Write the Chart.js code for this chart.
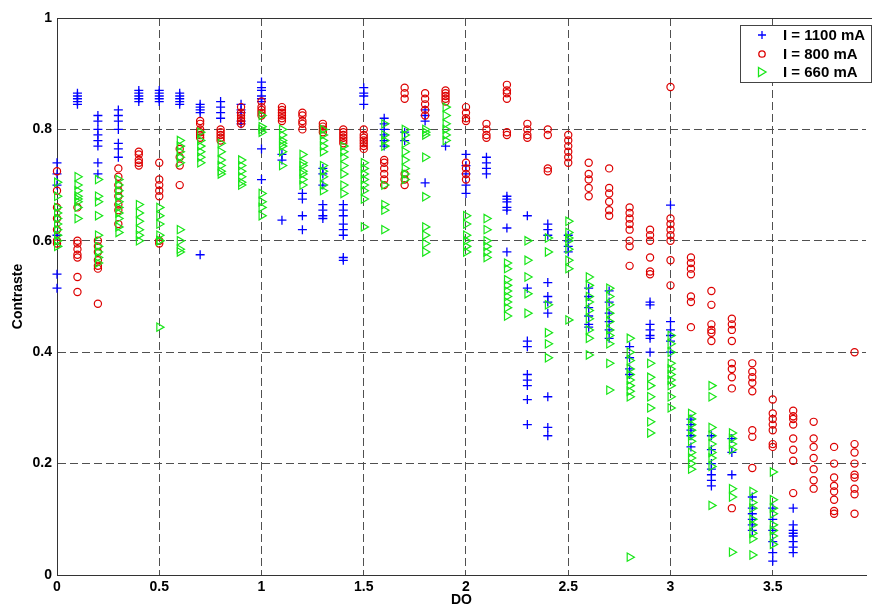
<!DOCTYPE html>
<html><head><meta charset="utf-8">
<script src="https://cdn.jsdelivr.net/npm/chart.js@4/dist/chart.umd.min.js"></script>
<style>html,body{margin:0;padding:0;background:#fff;overflow:hidden}#wrap{width:872px;height:606px}</style>
</head><body><div id="wrap"><canvas id="c" width="872" height="606"></canvas></div>
<script>
// DO values (x columns)
const doValues = [0,0.1,0.2,0.3,0.4,0.5,0.6,0.7,0.8,0.9,1.0,1.1,1.2,1.3,1.4,1.5,1.6,1.7,1.8,1.9,
                  2.0,2.1,2.2,2.3,2.4,2.5,2.6,2.7,2.8,2.9,3.0,3.1,3.2,3.3,3.4,3.5,3.6,3.7,3.8,3.9];

// Contraste, I = 1100 mA (one list per DO column)
const contraste1100 = [
  [0.74,0.72,0.70,0.61,0.54,0.515],
  [0.865,0.86,0.855,0.85,0.845],
  [0.825,0.815,0.80,0.79,0.78,0.77,0.74,0.72],
  [0.835,0.825,0.815,0.80,0.775,0.765,0.75],
  [0.87,0.865,0.86,0.855,0.85],
  [0.87,0.865,0.86,0.855,0.85],
  [0.865,0.86,0.855,0.85,0.845],
  [0.845,0.84,0.835,0.83,0.575],
  [0.85,0.84,0.83,0.82],
  [0.845,0.835,0.83,0.815,0.81],
  [0.885,0.875,0.87,0.86,0.855,0.85,0.765,0.71],
  [0.755,0.745,0.637],
  [0.685,0.675,0.645,0.62],
  [0.73,0.72,0.70,0.665,0.655,0.645,0.64],
  [0.665,0.655,0.645,0.63,0.62,0.61,0.57,0.565],
  [0.875,0.865,0.86,0.845],
  [0.82,0.81,0.80,0.79,0.78,0.77],
  [0.795,0.78],
  [0.835,0.825,0.815,0.704],
  [0.77],
  [0.755,0.735,0.72,0.70,0.685],
  [0.75,0.74,0.73,0.72],
  [0.68,0.675,0.67,0.66,0.655,0.623,0.58],
  [0.645,0.515,0.42,0.41,0.36,0.35,0.34,0.315,0.27],
  [0.63,0.62,0.61,0.525,0.50,0.49,0.47,0.32,0.265,0.25],
  [0.61,0.60,0.59,0.58],
  [0.515,0.50,0.48,0.465,0.45,0.445],
  [0.51,0.49,0.47,0.455,0.44,0.425],
  [0.41,0.39,0.37,0.36],
  [0.49,0.485,0.45,0.44,0.43,0.425,0.40],
  [0.664,0.455,0.44,0.43,0.42,0.40],
  [0.28,0.27,0.26,0.25,0.23],
  [0.25,0.225,0.20,0.19,0.18,0.17,0.16],
  [0.245,0.22,0.18],
  [0.14,0.12,0.11,0.10,0.09,0.08],
  [0.12,0.10,0.08,0.06,0.04,0.025],
  [0.12,0.09,0.08,0.075,0.07,0.06,0.05,0.04],
  [],[],[]
];

// Contraste, I = 800 mA
const contraste800 = [
  [0.725,0.69,0.66,0.64,0.62,0.60,0.595],
  [0.66,0.60,0.595,0.585,0.575,0.57,0.535,0.508],
  [0.60,0.59,0.58,0.565,0.555,0.55,0.487],
  [0.73,0.715,0.70,0.69,0.68,0.665,0.655,0.63],
  [0.76,0.755,0.745,0.74,0.735],
  [0.74,0.71,0.70,0.69,0.68,0.60,0.595],
  [0.765,0.75,0.735,0.70],
  [0.815,0.81,0.80,0.795,0.79,0.785],
  [0.80,0.795,0.79,0.785,0.78],
  [0.84,0.83,0.825,0.82,0.815,0.81],
  [0.85,0.84,0.835,0.83,0.825],
  [0.84,0.835,0.83,0.825,0.82,0.815],
  [0.83,0.825,0.815,0.81,0.80],
  [0.81,0.805,0.80,0.795],
  [0.80,0.795,0.79,0.785,0.78,0.775],
  [0.80,0.79,0.785,0.78,0.775,0.77,0.765],
  [0.745,0.74,0.73,0.72,0.71,0.70],
  [0.875,0.865,0.855,0.72,0.71,0.70],
  [0.865,0.855,0.845,0.835,0.825],
  [0.87,0.865,0.86,0.855,0.85],
  [0.84,0.83,0.82,0.815,0.74,0.73,0.72,0.71],
  [0.81,0.80,0.79,0.785],
  [0.88,0.87,0.865,0.855,0.795,0.79],
  [0.81,0.80,0.79,0.785],
  [0.80,0.79,0.73,0.725],
  [0.79,0.78,0.77,0.76,0.75,0.74],
  [0.74,0.72,0.71,0.695,0.68],
  [0.73,0.695,0.685,0.67,0.655,0.645],
  [0.66,0.65,0.64,0.63,0.62,0.60,0.59,0.555],
  [0.62,0.61,0.60,0.57,0.545,0.54],
  [0.876,0.64,0.63,0.62,0.61,0.60,0.565,0.52],
  [0.57,0.56,0.55,0.54,0.50,0.49,0.445],
  [0.51,0.485,0.45,0.44,0.435,0.42],
  [0.46,0.45,0.44,0.42,0.38,0.37,0.355,0.335,0.12],
  [0.38,0.365,0.355,0.345,0.33,0.26,0.248,0.192],
  [0.315,0.29,0.28,0.27,0.26,0.235,0.23],
  [0.295,0.285,0.28,0.27,0.245,0.225,0.205,0.147],
  [0.275,0.245,0.23,0.21,0.19,0.17,0.155],
  [0.23,0.20,0.175,0.16,0.15,0.135,0.115,0.11],
  [0.40,0.235,0.22,0.20,0.18,0.175,0.155,0.145,0.11]
];

// Contraste, I = 660 mA
const contraste660 = [
  [0.705,0.68,0.66,0.65,0.64,0.63,0.62,0.61,0.60,0.59],
  [0.715,0.70,0.69,0.68,0.675,0.67,0.66,0.64],
  [0.71,0.68,0.67,0.645,0.61,0.59,0.58,0.57,0.56],
  [0.71,0.70,0.69,0.68,0.67,0.66,0.65,0.64,0.625,0.615],
  [0.665,0.65,0.635,0.62,0.61,0.60],
  [0.66,0.645,0.63,0.61,0.60,0.60,0.445],
  [0.78,0.77,0.76,0.75,0.74,0.62,0.60,0.585,0.58],
  [0.795,0.78,0.77,0.76,0.75,0.74],
  [0.775,0.76,0.745,0.735,0.725,0.72],
  [0.745,0.735,0.725,0.715,0.705,0.70],
  [0.825,0.805,0.80,0.795,0.685,0.67,0.66,0.645],
  [0.80,0.79,0.78,0.775,0.77,0.76,0.735],
  [0.755,0.74,0.735,0.725,0.72,0.71,0.70],
  [0.80,0.79,0.78,0.77,0.76,0.735,0.725,0.715,0.70,0.69],
  [0.77,0.76,0.75,0.735,0.72,0.70,0.685],
  [0.74,0.73,0.72,0.71,0.70,0.69,0.675,0.625],
  [0.81,0.79,0.78,0.77,0.70,0.665,0.655,0.62],
  [0.80,0.79,0.775,0.76,0.745,0.73,0.72,0.71],
  [0.80,0.795,0.79,0.75,0.679,0.625,0.61,0.595,0.58],
  [0.84,0.825,0.81,0.80,0.79,0.78],
  [0.645,0.63,0.61,0.60,0.59,0.58],
  [0.64,0.62,0.60,0.59,0.58,0.57],
  [0.56,0.55,0.53,0.52,0.51,0.50,0.49,0.48,0.465],
  [0.60,0.565,0.535,0.505,0.47],
  [0.605,0.58,0.485,0.435,0.415,0.39],
  [0.635,0.615,0.605,0.60,0.585,0.565,0.55,0.458],
  [0.535,0.52,0.50,0.49,0.475,0.46,0.44,0.425,0.395],
  [0.515,0.50,0.485,0.47,0.455,0.44,0.43,0.415,0.38,0.332],
  [0.425,0.40,0.385,0.37,0.36,0.35,0.34,0.33,0.32,0.032],
  [0.38,0.355,0.34,0.32,0.30,0.275,0.255],
  [0.43,0.415,0.40,0.38,0.37,0.36,0.35,0.34,0.32,0.30],
  [0.29,0.28,0.27,0.26,0.25,0.24,0.22,0.21,0.20,0.19],
  [0.34,0.32,0.265,0.25,0.235,0.22,0.21,0.195,0.125],
  [0.255,0.245,0.235,0.225,0.155,0.14,0.041],
  [0.15,0.13,0.12,0.10,0.09,0.075,0.065,0.036],
  [0.185,0.135,0.12,0.11,0.09,0.08,0.07,0.055],
  [],[],[],[]
];

const seriesLabels = ['I = 1100 mA','I = 800 mA','I = 660 mA'];
const xTickValues = [0,0.5,1,1.5,2,2.5,3,3.5];
const yTickValues = [0,0.2,0.4,0.6,0.8,1];
const xTitle = 'DO';
const yTitle = 'Contraste';

function toPoints(cols){
  const pts = [];
  cols.forEach((vals,i)=>vals.forEach(v=>pts.push({x:doValues[i],y:v})));
  return pts;
}

const BLUE='#0000ff', RED='#dd0000', GREEN='#19e619';
const FONT='"Liberation Sans", Arial, sans-serif';

const framePlugin = {
  id:'frame',
  beforeDatasetsDraw(chart){
    const {ctx, chartArea:a} = chart;
    ctx.save();
    ctx.strokeStyle='#333'; ctx.lineWidth=1; ctx.setLineDash([]);
    ctx.beginPath();
    ctx.moveTo(a.left, a.top+0.5); ctx.lineTo(872, a.top+0.5);
    ctx.stroke();
    ctx.restore();
  }
};

const legendPlugin = {
  id:'boxLegend',
  afterDraw(chart){
    const ctx = chart.ctx;
    const x0=740, y0=25, w=131, h=57;
    ctx.save();
    ctx.setLineDash([]);
    ctx.fillStyle='#fff';
    ctx.fillRect(x0,y0,w,h);
    ctx.strokeStyle='#444'; ctx.lineWidth=1;
    ctx.strokeRect(x0+0.5,y0+0.5,w,h);
    const rows=[35,54,72];
    chart.data.datasets.forEach((ds,i)=>{
      const cx=762, cy=rows[i];
      ctx.strokeStyle=ds.borderColor; ctx.lineWidth=1.3;
      ctx.beginPath();
      if(ds.pointStyle==='cross'){
        ctx.moveTo(cx-4,cy); ctx.lineTo(cx+4,cy);
        ctx.moveTo(cx,cy-4); ctx.lineTo(cx,cy+4);
      } else if(ds.pointStyle==='circle'){
        ctx.arc(cx,cy,3.2,0,Math.PI*2);
      } else {
        ctx.moveTo(cx-3.5,cy-4.5); ctx.lineTo(cx+4,cy); ctx.lineTo(cx-3.5,cy+4.5); ctx.closePath();
      }
      ctx.stroke();
      ctx.fillStyle='#000';
      ctx.font='bold 15px '+FONT;
      ctx.textBaseline='middle'; ctx.textAlign='left';
      ctx.fillText(ds.label, 783, cy+1);
    });
    ctx.restore();
  }
};

const gridColor = (edgeVals)=>ctx=>{
  const v = ctx.tick && ctx.tick.value;
  return edgeVals.includes(v) ? 'rgba(0,0,0,0)' : '#505050';
};

new Chart(document.getElementById('c'),{
  type:'scatter',
  data:{datasets:[
    {label:seriesLabels[0],data:toPoints(contraste1100),pointStyle:'cross',pointRadius:4.5,
     borderColor:BLUE,backgroundColor:BLUE,pointBorderWidth:1.3,order:2,clip:false},
    {label:seriesLabels[1],data:toPoints(contraste800),pointStyle:'circle',pointRadius:3.6,
     borderColor:RED,backgroundColor:'rgba(0,0,0,0)',pointBorderWidth:1.2,order:1,clip:false},
    {label:seriesLabels[2],data:toPoints(contraste660),pointStyle:'triangle',rotation:90,pointRadius:4.8,
     borderColor:GREEN,backgroundColor:'rgba(0,0,0,0)',pointBorderWidth:1.2,order:0,clip:false}
  ]},
  options:{
    responsive:false, animation:false, devicePixelRatio:1,
    layout:{padding:{top:18,right:0,left:0,bottom:0}},
    plugins:{legend:{display:false},tooltip:{enabled:false}},
    scales:{
      x:{type:'linear',min:0,max:3.956,
        afterBuildTicks:s=>{s.ticks=xTickValues.map(v=>({value:v}));},
        afterFit:s=>{s.height=31;},
        ticks:{color:'#000',font:{family:FONT,size:14,weight:'bold'},padding:4,maxRotation:0,autoSkip:false,
          callback:v=>String(v)},
        grid:{color:gridColor([0]),lineWidth:1,drawTicks:false},
        border:{display:true,color:'#333',width:1,dash:[8,4]},
        title:{display:true,text:xTitle,color:'#000',font:{family:FONT,size:14,weight:'bold',lineHeight:0.8},padding:{top:0,bottom:0}}
      },
      y:{type:'linear',min:0,max:1,
        afterBuildTicks:s=>{s.ticks=yTickValues.map(v=>({value:v}));},
        afterFit:s=>{s.width=57;},
        ticks:{color:'#000',font:{family:FONT,size:14,weight:'bold'},padding:5,
          callback:v=>String(v)},
        grid:{color:gridColor([0,1]),lineWidth:1,drawTicks:false},
        border:{display:true,color:'#333',width:1,dash:[8,4]},
        title:{display:true,text:yTitle,color:'#000',font:{family:FONT,size:14,weight:'bold'},padding:{top:10,bottom:0}}
      }
    }
  },
  plugins:[framePlugin,legendPlugin]
});
</script>
</body></html>
